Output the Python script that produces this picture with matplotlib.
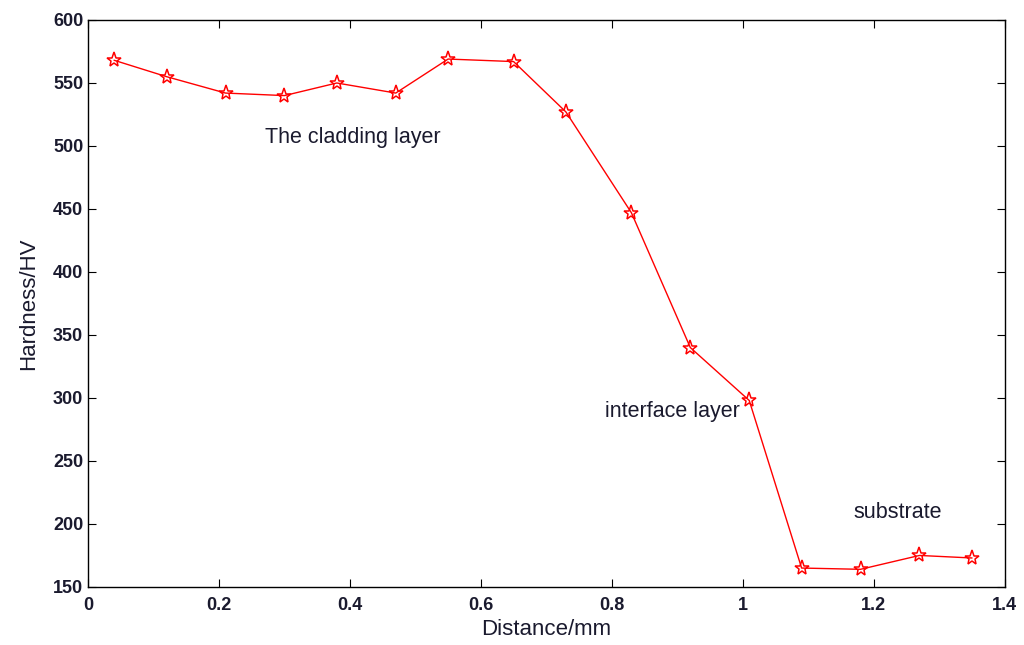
import matplotlib
matplotlib.use("Agg")
import matplotlib.pyplot as plt

# hardness profile across the clad
distance = [0.04, 0.12, 0.21, 0.30, 0.38, 0.47, 0.55, 0.65, 0.73, 0.83, 0.92, 1.01, 1.09, 1.18, 1.27, 1.35]
hardness = [568, 555, 542, 540, 550, 542, 569, 567, 527, 447, 340, 298, 165, 164, 175, 173]

region_labels = ["The cladding layer", "interface layer", "substrate"]
region_pos = [(0.405, 507), (0.893, 289), (1.237, 209)]

plt.rcParams['font.family'] = ['Liberation Sans', 'DejaVu Sans']

fig = plt.figure(figsize=(10.24, 6.45), dpi=100)
ax = fig.add_axes([0.086, 0.090, 0.895, 0.879])

ax.plot(distance, hardness, color='red', linewidth=1.0,
        marker='*', markersize=11, markerfacecolor='none',
        markeredgecolor='red', markeredgewidth=1.1)

for txt, (x, y) in zip(region_labels, region_pos):
    ax.text(x, y, txt, ha='center', va='center', fontsize=15.5, color='#1a1a2e')

ax.set_xlim(0, 1.4)
ax.set_ylim(150, 600)
ax.set_xticks([0, 0.2, 0.4, 0.6, 0.8, 1.0, 1.2, 1.4])
ax.set_xticklabels(['0', '0.2', '0.4', '0.6', '0.8', '1', '1.2', '1.4'])
ax.set_yticks(range(150, 601, 50))
ax.tick_params(direction='in', top=True, right=True, labelsize=13, length=6,
               labelcolor='#1a1a2e')
ax.tick_params(axis='x', pad=7)
for lbl in ax.get_xticklabels() + ax.get_yticklabels():
    lbl.set_fontweight('bold')
for s in ax.spines.values():
    s.set_linewidth(1.0)

ax.set_xlabel('Distance/mm', fontsize=16, labelpad=4, color='#1a1a2e')
ax.set_ylabel('Hardness/HV', fontsize=16, labelpad=10, color='#1a1a2e')

fig.savefig('out.png', dpi=100)
